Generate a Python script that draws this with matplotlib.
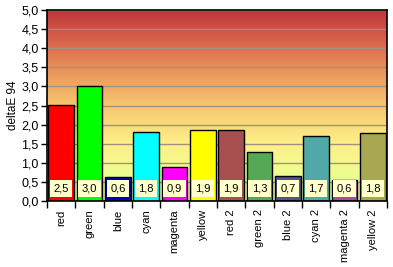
import numpy as np
import matplotlib
matplotlib.use("Agg")
from matplotlib import pyplot as plt
from matplotlib.colors import LinearSegmentedColormap

plt.rcParams['font.family'] = ['Liberation Sans', 'DejaVu Sans']

categories = ["red", "green", "blue", "cyan", "magenta", "yellow",
              "red 2", "green 2", "blue 2", "cyan 2", "magenta 2", "yellow 2"]
values = [2.52, 3.0, 0.62, 1.80, 0.88, 1.86, 1.85, 1.27, 0.65, 1.70, 0.55, 1.77]
labels = ["2,5", "3,0", "0,6", "1,8", "0,9", "1,9", "1,9", "1,3", "0,7", "1,7", "0,6", "1,8"]
colors = ["#ff0000", "#00ff00", "#0000c0", "#00ffff", "#ff00ff", "#ffff00",
          "#a85050", "#55a855", "#525294", "#50a8a8", "#a050a0", "#a8a850"]

fig = plt.figure(figsize=(3.93, 2.67), dpi=100)
ax = fig.add_axes([47/393, 66/267, 340/393, 191/267])

# background gradient, bottom (0) to top (5)
cmap = LinearSegmentedColormap.from_list("bg", [
    (0.0, "#d4f890"), (0.15, "#f0fc90"), (0.3, "#fef088"),
    (0.5, "#f6c670"), (0.7, "#e8905a"), (0.85, "#d8604a"), (1.0, "#c0353a")])
grad = np.linspace(0, 1, 256).reshape(-1, 1)
ax.imshow(grad, cmap=cmap, origin="lower", aspect="auto",
          extent=(-0.5, len(categories) - 0.5, 0, 5), zorder=0)

x = np.arange(len(categories))
ax.bar(x, values, width=0.9, color=colors, edgecolor="black", linewidth=1, zorder=3)

for i, lab in enumerate(labels):
    ax.text(i, 0.33, lab, ha="center", va="center", fontsize=8, zorder=4,
            bbox=dict(facecolor="#ffffcc", edgecolor="none", pad=2.5))

ax.set_xlim(-0.5, len(categories) - 0.5)
ax.set_ylim(0, 5)
ax.set_yticks(np.arange(0, 5.01, 0.5))
ax.set_yticklabels([f"{v:.1f}".replace(".", ",") for v in np.arange(0, 5.01, 0.5)], fontsize=9)
ax.yaxis.grid(True, color="#a09080", linewidth=1, zorder=1)
ax.set_axisbelow(True)

ax.set_xticks(x)
ax.set_xticklabels(categories, rotation=90, fontsize=8)
ax.tick_params(axis="x", length=0, pad=6)
ax.set_xticks(np.arange(-0.5, len(categories)), minor=True)
ax.tick_params(axis="x", which="minor", length=5, direction="out", width=1)
ax.tick_params(axis="y", length=4, direction="out", width=1, pad=2)

ax.set_ylabel("deltaE 94", fontsize=8.5, labelpad=2)
for s in ax.spines.values():
    s.set_linewidth(1.2)
    s.set_zorder(5)

fig.savefig("out.png", dpi=100)
